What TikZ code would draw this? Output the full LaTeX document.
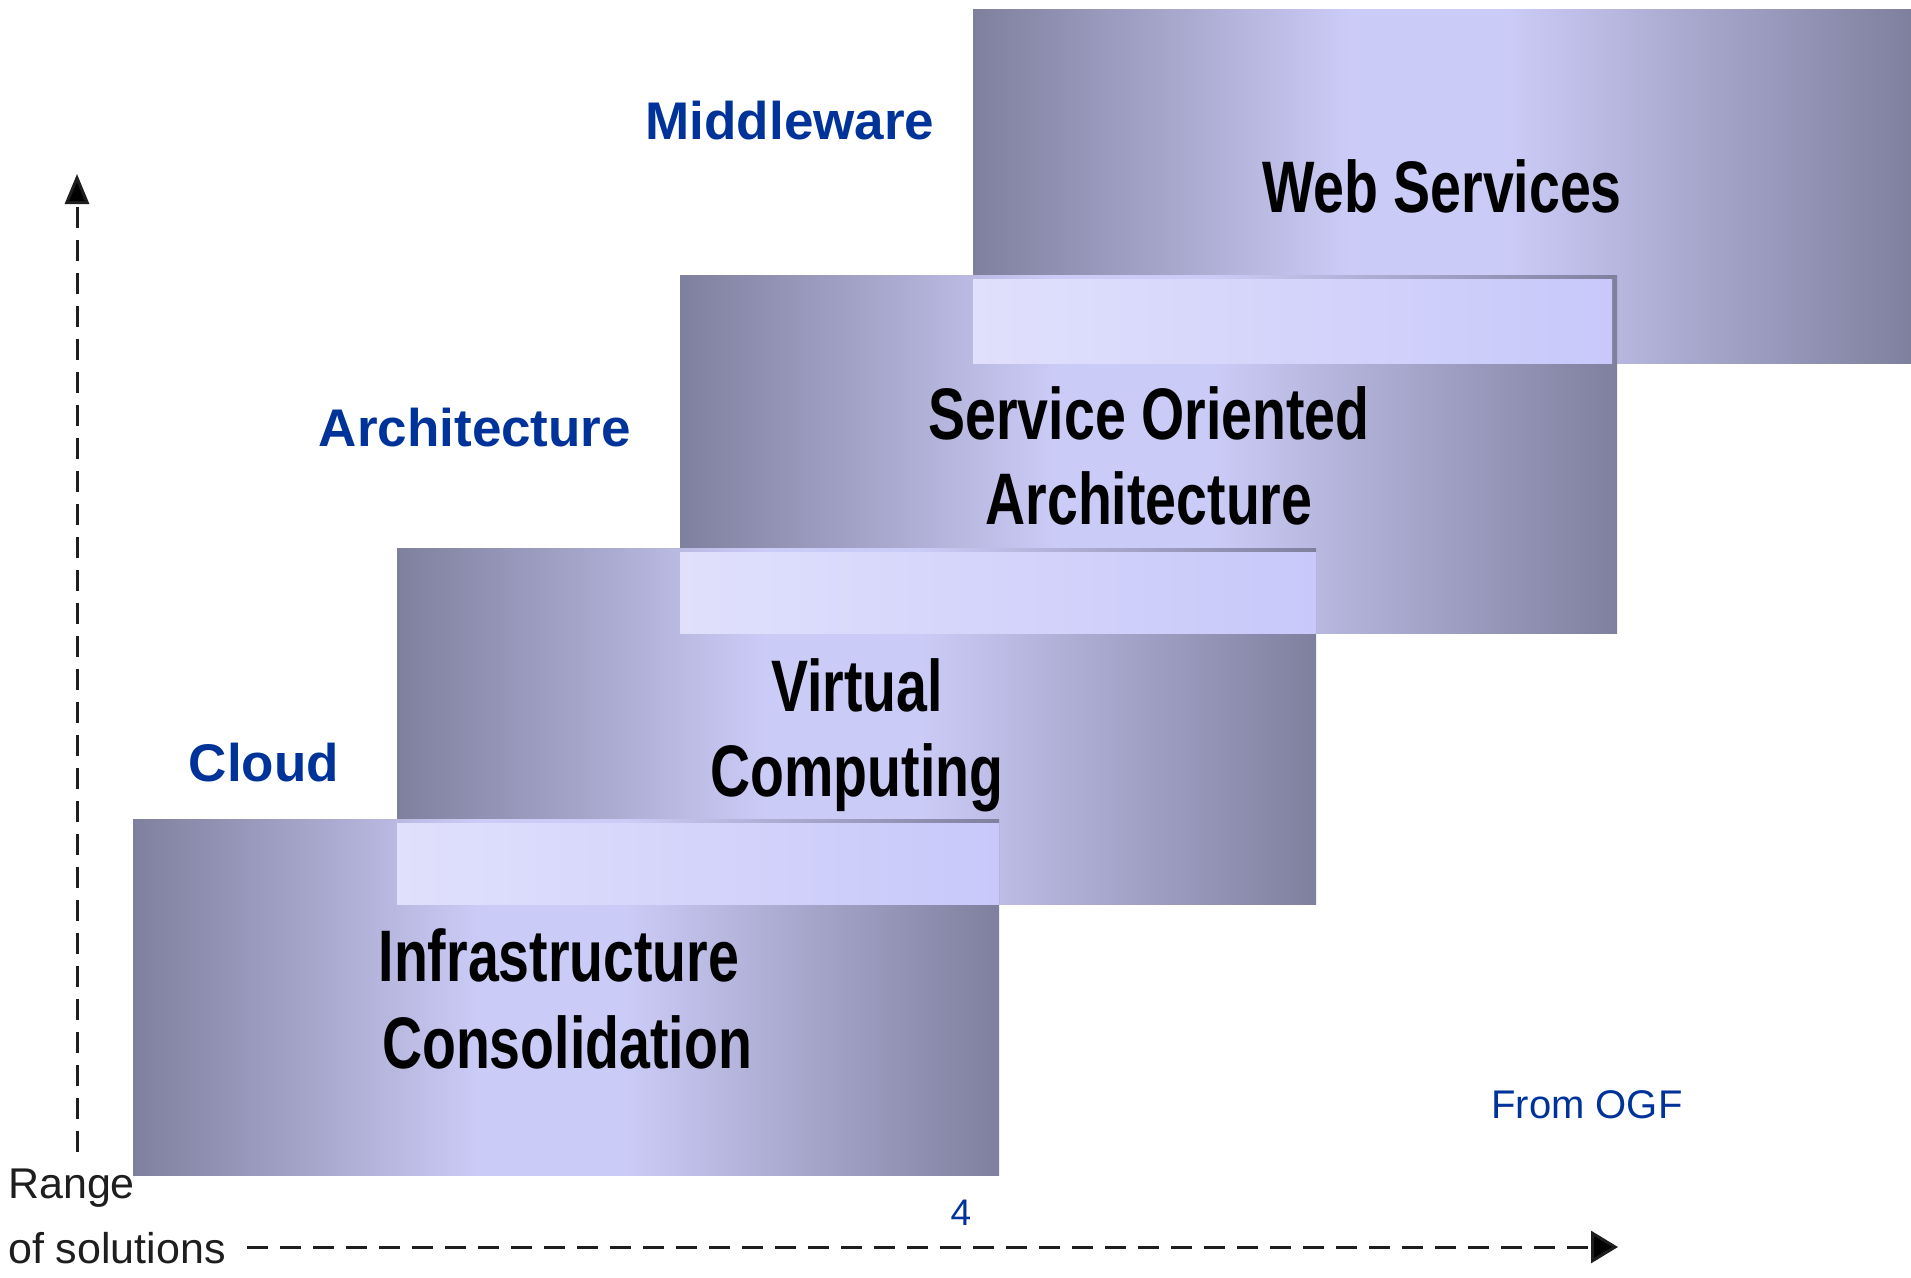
\documentclass[tikz,border=0pt]{standalone}
\usepackage{fontspec}
\setmainfont{Liberation Sans}
\newfontfamily\narrowbf[FakeStretch=0.76]{Liberation Sans Bold}
\usetikzlibrary{arrows.meta}
\definecolor{boxdk}{RGB}{127,127,158}
\definecolor{boxlt}{RGB}{203,203,247}
\definecolor{bandl}{RGB}{224,224,252}
\definecolor{bandr}{RGB}{200,200,250}
\definecolor{lblue}{RGB}{0,51,153}
\definecolor{axisc}{RGB}{30,30,30}
% the path's box maps onto 25bp..75bp of the shading
\pgfdeclarehorizontalshading{boxshade}{100bp}{color(0bp)=(boxdk); color(25bp)=(boxdk); color(45bp)=(boxlt); color(53.5bp)=(boxlt); color(75bp)=(boxdk); color(100bp)=(boxdk)}
\pgfdeclarehorizontalshading{bandshade}{100bp}{color(0bp)=(bandl); color(25bp)=(bandl); color(75bp)=(bandr); color(100bp)=(bandr)}
\tikzset{
  stepbox/.style={shading=boxshade, draw=none},
  bandbox/.style={shading=bandshade, draw=none},
  boxlabel/.style={anchor=base, inner sep=0pt, font=\narrowbf\fontsize{73}{85}\selectfont, text=black},
  layerlabel/.style={anchor=base, inner sep=0pt, font=\bfseries\fontsize{53}{60}\selectfont, text=lblue},
  axislabel/.style={anchor=base west, inner sep=0pt, font=\fontsize{43}{50}\selectfont, text=axisc},
  axisline/.style={line width=3pt, draw=axisc, dash pattern=on 21pt off 12pt},
}
\begin{document}
\begin{tikzpicture}[x=1pt,y=-1pt]
\useasboundingbox[fill=white] (0,0) rectangle (1911,1277);
% boxes
\shade[stepbox] (973,9) rectangle (1911,363);
\shade[stepbox] (680,275) rectangle (1617,633);
\shade[bandbox] (973,279) rectangle (1612,363);
\shade[stepbox] (397,548) rectangle (1316,904);
\shade[bandbox] (680,552) rectangle (1316,633);
\shade[stepbox] (133,819) rectangle (999,1175);
\shade[bandbox] (397,823) rectangle (999,904);
% box labels
\node[boxlabel] (ws) at (1442,212) {Web Services};
\node[boxlabel] (soa1) at (1149,439) {Service Oriented};
\node[boxlabel] (soa2) at (1149,524) {Architecture};
\node[boxlabel] (vc1) at (857,711) {Virtual};
\node[boxlabel] (vc2) at (857,796) {Computing};
\node[boxlabel] (ic1) at (559,981) {Infrastructure};
\node[boxlabel] (ic2) at (567,1068) {Consolidation};
% layer labels
\node[layerlabel] (mw) at (790,139) {Middleware};
\node[layerlabel] (ar) at (475,446) {Architecture};
\node[layerlabel] (cl) at (264,781) {Cloud};
% other texts
\node[anchor=base, inner sep=0pt, font=\fontsize{40}{48}\selectfont, text=lblue] (ogf) at (1587,1118) {From OGF};
\node[anchor=base, inner sep=0pt, font=\fontsize{37}{44}\selectfont, text=lblue] (pg) at (961,1225) {4};
\node[axislabel] (rng) at (8,1198) {Range};
\node[axislabel] (sol) at (8,1263) {of solutions};
% axes
\coordinate (vbot) at (77,1152);
\coordinate (vtop) at (77,174);
\coordinate (hstart) at (247,1247);
\coordinate (hend) at (1618,1247);
\draw[axisline, -{Triangle[length=30pt,width=24pt,fill=black]}] (vbot) -- (vtop);
\draw[axisline, -{Triangle[length=27pt,width=32pt,fill=black]}] (hstart) -- (hend);
\end{tikzpicture}
\end{document}
